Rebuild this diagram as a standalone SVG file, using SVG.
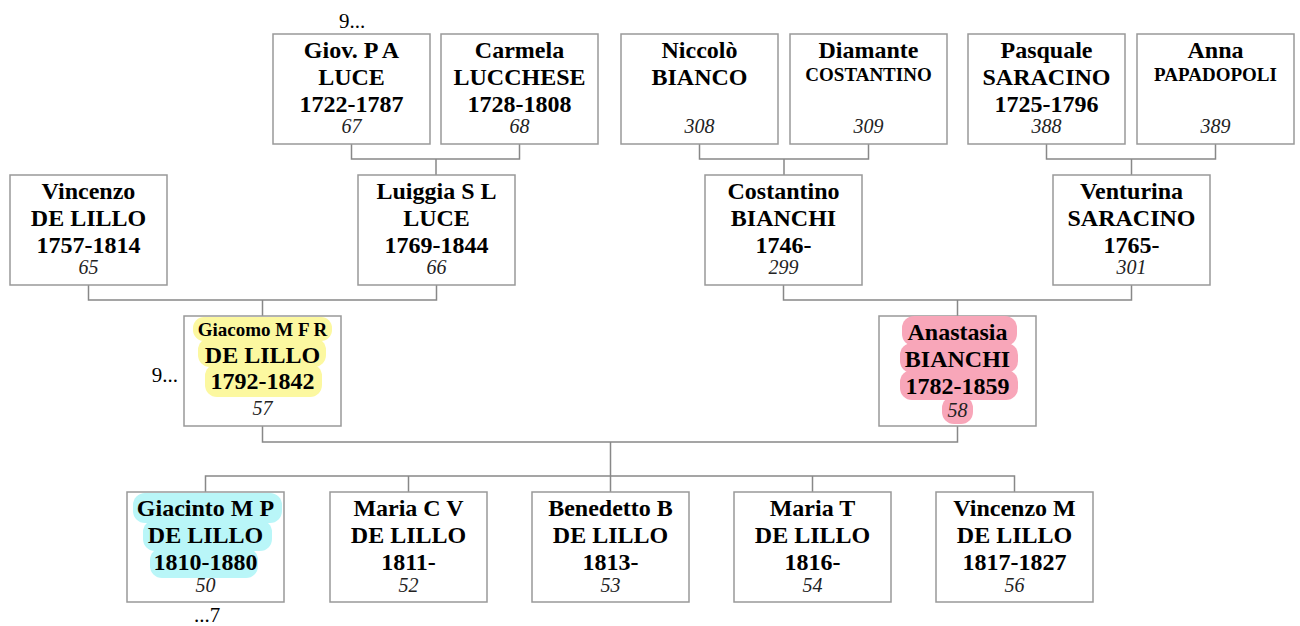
<svg xmlns="http://www.w3.org/2000/svg" width="1300" height="626" viewBox="0 0 1300 626">
<style>
.box{fill:#fff;stroke:#999;stroke-width:1.5}
.n{font-family:"Liberation Serif","Times New Roman",serif;font-weight:bold;font-size:24px;text-anchor:middle;fill:#000}
.s{font-family:"Liberation Serif","Times New Roman",serif;font-weight:bold;font-size:19px;text-anchor:middle;fill:#000}
.i{font-family:"Liberation Serif","Times New Roman",serif;font-style:italic;font-size:20px;text-anchor:middle;fill:#222}
.r{font-family:"Liberation Serif","Times New Roman",serif;font-size:21px;fill:#000}
.c{fill:none;stroke:#888;stroke-width:1.5}
.hy{fill:#fcf8a0}
.hp{fill:#f8a6b9}
.hc{fill:#b9f6f8}
</style>
<rect width="1300" height="626" fill="#fff"/>
<g id="connectors">
<path class="c" d="M351.5 143V159H519.5V143M436 159V175"/>
<path class="c" d="M699.5 143V159H868.5V143M784 159V175"/>
<path class="c" d="M1046.5 143V159H1215.5V143M1131.5 159V175"/>
<path class="c" d="M88.5 285V300H436.5V285M262.5 300V316"/>
<path class="c" d="M783.5 285V300H1131.5V285M957.5 300V316"/>
<path class="c" d="M262.5 426V442H957.5V426M610.5 442V476"/>
<path class="c" d="M205.5 492V476H1014.5V492M408.5 476V492M610.5 476V492M812.5 476V492"/>
</g>
<g id="p67"><rect class="box" x="273" y="34" width="157" height="110"/><text class="n" x="351.5" y="58">Giov. P A</text><text class="n" x="351.5" y="85">LUCE</text><text class="n" x="351.5" y="112">1722-1787</text><text class="i" x="351.5" y="133">67</text></g>
<g id="p68"><rect class="box" x="441" y="34" width="157" height="110"/><text class="n" x="519.5" y="58">Carmela</text><text class="n" x="519.5" y="85">LUCCHESE</text><text class="n" x="519.5" y="112">1728-1808</text><text class="i" x="519.5" y="133">68</text></g>
<g id="p308"><rect class="box" x="621" y="34" width="157" height="110"/><text class="n" x="699.5" y="58">Niccolò</text><text class="n" x="699.5" y="85">BIANCO</text><text class="i" x="699.5" y="133">308</text></g>
<g id="p309"><rect class="box" x="790" y="34" width="157" height="110"/><text class="n" x="868.5" y="58">Diamante</text><text class="s" x="868.5" y="81">COSTANTINO</text><text class="i" x="868.5" y="133">309</text></g>
<g id="p388"><rect class="box" x="968" y="34" width="157" height="110"/><text class="n" x="1046.5" y="58">Pasquale</text><text class="n" x="1046.5" y="85">SARACINO</text><text class="n" x="1046.5" y="112">1725-1796</text><text class="i" x="1046.5" y="133">388</text></g>
<g id="p389"><rect class="box" x="1137" y="34" width="157" height="110"/><text class="n" x="1215.5" y="58">Anna</text><text class="s" x="1215.5" y="81">PAPADOPOLI</text><text class="i" x="1215.5" y="133">389</text></g>
<g id="p65"><rect class="box" x="10" y="175" width="157" height="110"/><text class="n" x="88.5" y="199">Vincenzo</text><text class="n" x="88.5" y="226">DE LILLO</text><text class="n" x="88.5" y="253">1757-1814</text><text class="i" x="88.5" y="274">65</text></g>
<g id="p66"><rect class="box" x="358" y="175" width="157" height="110"/><text class="n" x="436.5" y="199">Luiggia S L</text><text class="n" x="436.5" y="226">LUCE</text><text class="n" x="436.5" y="253">1769-1844</text><text class="i" x="436.5" y="274">66</text></g>
<g id="p299"><rect class="box" x="705" y="175" width="157" height="110"/><text class="n" x="783.5" y="199">Costantino</text><text class="n" x="783.5" y="226">BIANCHI</text><text class="n" x="783.5" y="253">1746-</text><text class="i" x="783.5" y="274">299</text></g>
<g id="p301"><rect class="box" x="1053" y="175" width="157" height="110"/><text class="n" x="1131.5" y="199">Venturina</text><text class="n" x="1131.5" y="226">SARACINO</text><text class="n" x="1131.5" y="253">1765-</text><text class="i" x="1131.5" y="274">301</text></g>
<g id="p57"><rect class="box" x="184" y="316" width="157" height="110"/>
<rect class="hy" x="193" y="317" width="139" height="24" rx="11"/><rect class="hy" x="198" y="338" width="128" height="29" rx="12"/><rect class="hy" x="205" y="364" width="117" height="33" rx="12"/>
<text class="s" x="262.5" y="336">Giacomo M F R</text><text class="n" x="262.5" y="362.5">DE LILLO</text><text class="n" x="262.5" y="389">1792-1842</text><text class="i" x="262.5" y="415">57</text></g>
<g id="p58"><rect class="box" x="879" y="316" width="157" height="110"/>
<rect class="hp" x="902" y="316" width="115" height="30" rx="12"/><rect class="hp" x="900" y="343" width="118" height="30" rx="12"/><rect class="hp" x="900" y="370" width="118" height="30" rx="12"/><rect class="hp" x="942" y="396" width="31" height="28" rx="12"/>
<text class="n" x="957.5" y="340">Anastasia</text><text class="n" x="957.5" y="367">BIANCHI</text><text class="n" x="957.5" y="394">1782-1859</text><text class="i" x="957.5" y="417">58</text></g>
<g id="p50"><rect class="box" x="127" y="492" width="157" height="110"/>
<rect class="hc" x="133" y="493" width="149" height="30" rx="12"/><rect class="hc" x="143" y="520" width="129" height="31" rx="12"/><rect class="hc" x="150" y="548" width="108" height="30" rx="12"/>
<text class="n" x="205.5" y="516">Giacinto M P</text><text class="n" x="205.5" y="543">DE LILLO</text><text class="n" x="205.5" y="570">1810-1880</text><text class="i" x="205.5" y="592">50</text></g>
<g id="p52"><rect class="box" x="330" y="492" width="157" height="110"/><text class="n" x="408.5" y="516">Maria C V</text><text class="n" x="408.5" y="543">DE LILLO</text><text class="n" x="408.5" y="570">1811-</text><text class="i" x="408.5" y="592">52</text></g>
<g id="p53"><rect class="box" x="532" y="492" width="157" height="110"/><text class="n" x="610.5" y="516">Benedetto B</text><text class="n" x="610.5" y="543">DE LILLO</text><text class="n" x="610.5" y="570">1813-</text><text class="i" x="610.5" y="592">53</text></g>
<g id="p54"><rect class="box" x="734" y="492" width="157" height="110"/><text class="n" x="812.5" y="516">Maria T</text><text class="n" x="812.5" y="543">DE LILLO</text><text class="n" x="812.5" y="570">1816-</text><text class="i" x="812.5" y="592">54</text></g>
<g id="p56"><rect class="box" x="936" y="492" width="157" height="110"/><text class="n" x="1014.5" y="516">Vincenzo M</text><text class="n" x="1014.5" y="543">DE LILLO</text><text class="n" x="1014.5" y="570">1817-1827</text><text class="i" x="1014.5" y="592">56</text></g>
<g id="labels">
<text class="r" x="352" y="28" text-anchor="middle">9...</text>
<text class="r" x="178" y="382" text-anchor="end">9...</text>
<text class="r" x="207" y="622" text-anchor="middle">...7</text>
</g>
</svg>
